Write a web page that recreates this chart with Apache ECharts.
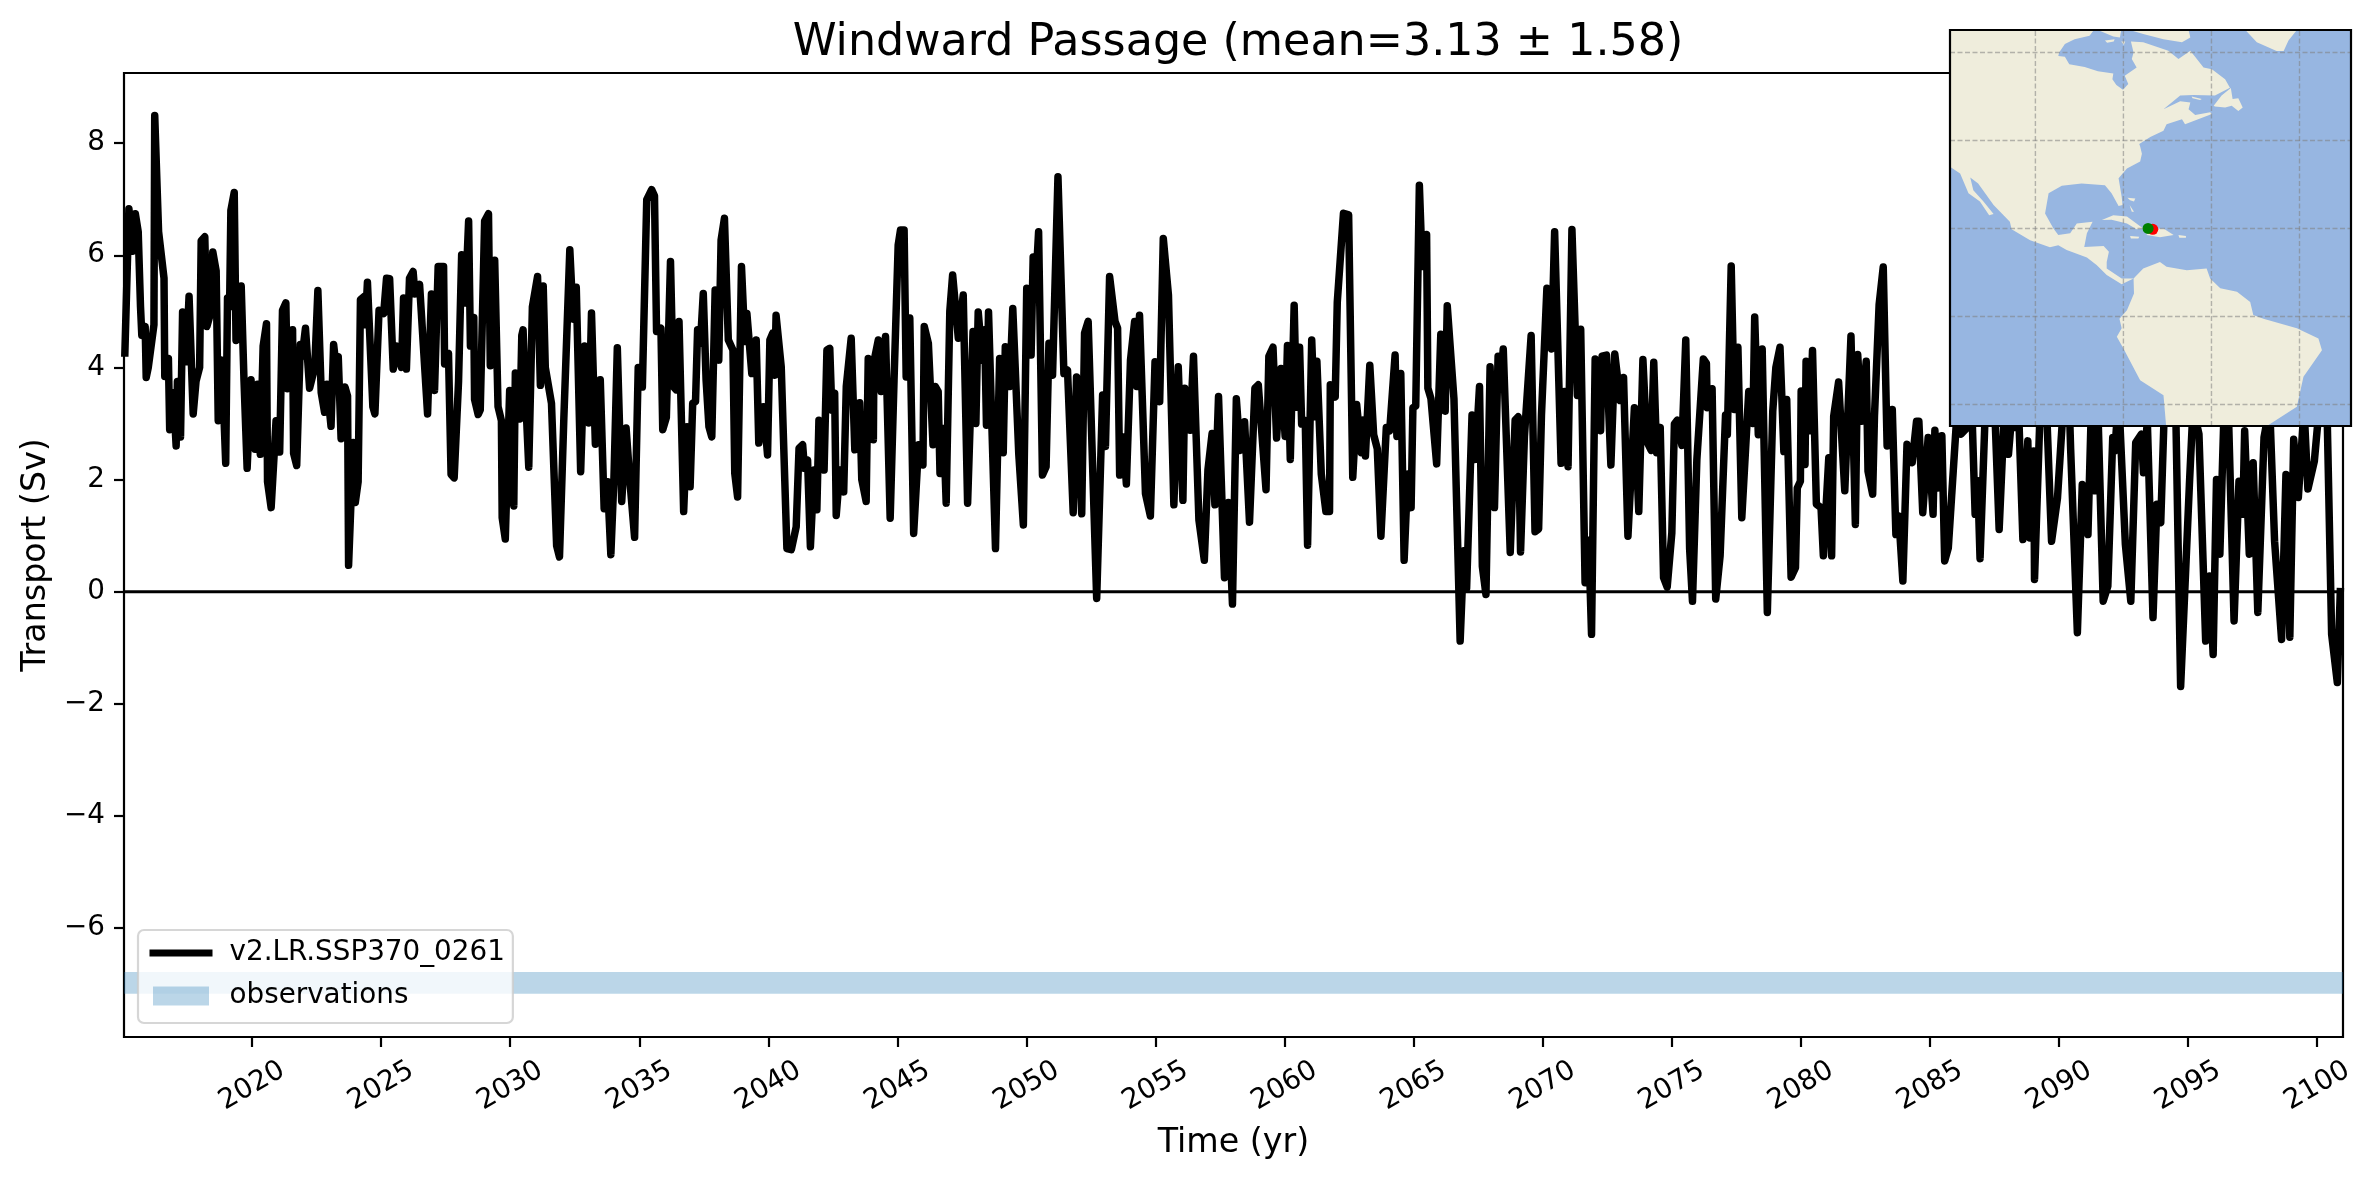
<!DOCTYPE html>
<html><head><meta charset="utf-8">
<style>html,body{margin:0;padding:0;background:#fff}#c{width:2376px;height:1180px}</style>
<script src="https://cdn.jsdelivr.net/npm/echarts@6/dist/echarts.min.js"></script>
</head><body><div id="c"></div>
<script>
const baseYear = 2000;
// [year since 2000, transport in Sv]
const readings2015 = [[15.07,4.19],[15.23,6.83],[15.37,6.07],[15.48,6.74],[15.59,6.42],[15.68,5.08],[15.73,4.57],[15.86,4.73],[15.90,3.82],[15.98,4.0],[16.20,4.76],[16.23,8.49],[16.38,6.42],[16.59,5.59],[16.62,3.84],[16.76,4.16],[16.81,2.89],[16.95,3.55],[17.06,2.6],[17.11,3.75],[17.23,2.76],[17.31,4.99],[17.45,4.1],[17.56,5.27],[17.72,3.17],[17.83,3.75],[17.97,4.0],[18.03,6.26],[18.17,6.33],[18.25,4.73],[18.39,4.96],[18.48,6.06],[18.61,5.72],[18.69,3.05],[18.83,4.13],[18.98,2.29],[19.05,5.24],[19.13,5.08],[19.18,6.8],[19.31,7.12],[19.38,4.48],[19.58,5.45],[19.69,3.75],[19.81,2.2],[19.96,3.78],[20.12,2.54],[20.21,3.7],[20.32,2.45],[20.43,4.38],[20.56,4.78],[20.6,1.96],[20.74,1.5],[20.93,3.05],[21.07,2.49],[21.18,5.02],[21.31,5.15],[21.37,3.62],[21.57,4.67],[21.61,2.47],[21.73,2.25],[21.87,4.41],[21.94,4.19],[22.07,4.7],[22.23,3.63],[22.43,4.0],[22.55,5.37],[22.68,3.55],[22.81,3.2],[22.9,3.7],[23.06,2.95],[23.16,4.41],[23.26,4.0],[23.34,4.19],[23.45,2.73],[23.6,3.65],[23.7,3.49],[23.74,0.47],[23.92,2.66],[24.0,1.59],[24.11,1.96],[24.2,5.21],[24.36,5.27],[24.39,4.76],[24.47,5.52],[24.68,3.3],[24.76,3.17],[24.92,5.02],[25.1,4.96],[25.21,5.59],[25.33,5.58],[25.47,3.97],[25.62,4.38],[25.79,4.0],[25.87,5.24],[25.98,3.97],[26.1,5.59],[26.24,5.71],[26.31,5.31],[26.49,5.48],[26.8,3.17],[26.95,5.31],[27.07,3.59],[27.21,5.8],[27.42,5.8],[27.46,4.06],[27.61,4.25],[27.71,2.09],[27.83,2.03],[28.0,3.75],[28.12,6.01],[28.26,5.15],[28.39,6.61],[28.46,4.38],[28.59,4.89],[28.62,3.43],[28.76,3.16],[28.84,3.24],[29.01,6.61],[29.16,6.74],[29.23,4.03],[29.4,5.91],[29.53,3.3],[29.66,3.05],[29.69,1.32],[29.81,0.94],[29.98,3.59],[30.14,1.53],[30.2,3.9],[30.38,3.08],[30.45,4.57],[30.5,4.67],[30.56,3.87],[30.72,2.22],[30.86,5.08],[31.06,5.62],[31.17,3.68],[31.28,5.45],[31.36,4.0],[31.6,3.36],[31.8,0.82],[31.91,0.62],[32.08,3.11],[32.31,6.1],[32.44,4.86],[32.56,5.43],[32.73,2.14],[32.88,4.38],[33.05,3.01],[33.15,4.97],[33.3,2.63],[33.49,3.78],[33.64,1.48],[33.77,1.96],[33.9,0.66],[34.02,2.03],[34.15,4.35],[34.32,1.61],[34.49,2.92],[34.64,1.96],[34.82,0.97],[34.96,4.0],[35.12,3.65],[35.29,6.99],[35.48,7.17],[35.59,7.06],[35.67,4.64],[35.84,4.7],[35.91,2.89],[36.05,3.11]];
const readings2036 = [[36.21,5.89],[36.32,3.66],[36.43,3.6],[36.54,4.82],[36.72,1.43],[36.85,2.94],[36.97,1.87],[37.07,3.36],[37.18,3.39],[37.26,4.67],[37.37,4.43],[37.48,5.32],[37.59,3.77],[37.7,2.94],[37.81,2.76],[37.94,5.38],[38.08,4.13],[38.17,6.27],[38.3,6.66],[38.45,4.49],[38.63,4.31],[38.7,2.11],[38.81,1.69],[38.96,5.8],[39.09,4.46],[39.17,4.96],[39.36,3.89],[39.53,4.49],[39.63,2.65],[39.81,3.3],[39.97,2.44],[40.06,4.49],[40.17,4.61],[40.25,3.86],[40.3,4.93],[40.5,4.01],[40.72,0.77],[40.89,0.75],[41.08,1.16],[41.19,2.56],[41.33,2.62],[41.4,2.2],[41.52,2.35],[41.63,0.8],[41.77,2.17],[41.88,1.46],[41.96,3.06],[42.16,2.17],[42.27,4.31],[42.38,4.34],[42.46,3.24],[42.57,3.54],[42.63,1.36],[42.77,2.17],[42.92,1.78],[43.02,3.66],[43.21,4.52],[43.35,2.53],[43.54,3.37],[43.62,2.0],[43.79,1.61],[43.87,4.16],[44.07,2.71],[44.09,4.1],[44.26,4.49],[44.37,3.57],[44.54,4.55],[44.72,1.31],[44.87,3.77],[45.03,6.18],[45.12,6.45],[45.26,6.45],[45.34,3.83],[45.48,4.88],[45.63,1.04],[45.82,2.62],[45.99,2.26],[46.04,4.73],[46.2,4.43],[46.38,2.62],[46.47,3.66],[46.58,3.57],[46.65,2.11],[46.79,2.91],[46.89,1.58],[47.03,5.0],[47.14,5.65],[47.36,4.52],[47.55,5.29],[47.72,1.58],[47.93,4.64],[48.04,3.0],[48.13,4.99],[48.29,4.13],[48.38,4.67],[48.45,2.97],[48.53,4.99],[48.8,0.77],[48.96,4.16],[49.1,2.48],[49.18,4.37],[49.35,3.66],[49.47,5.05],[49.7,2.47],[49.88,1.19],[50.01,5.41],[50.18,4.22],[50.26,5.97],[50.35,5.38],[50.47,6.42],[50.62,2.08],[50.76,2.23],[50.87,4.43],[51.01,3.86],[51.22,7.4],[51.45,3.89],[51.59,3.95],[51.81,1.41],[51.94,3.83],[52.14,1.39],[52.25,4.61],[52.39,4.82],[52.72,-0.12],[52.95,3.51],[53.06,2.59],[53.22,5.62],[53.43,4.82],[53.53,4.7],[53.61,2.08],[53.75,2.76],[53.87,1.92],[54.03,4.13],[54.19,4.82],[54.27,3.66],[54.38,4.93],[54.61,1.75],[54.8,1.35],[54.98,4.1],[55.16,3.39],[55.3,6.3],[55.5,5.29],[55.71,1.55],[55.88,4.01],[56.06,1.63],[56.13,3.63],[56.34,2.88],[56.47,4.2],[56.68,1.28],[56.89,0.56],[57.03,2.17],[57.19,2.82],[57.3,1.55],[57.44,3.48]];
const readings2057 = [[57.67,0.25],[57.82,1.59],[57.98,-0.22],[58.13,3.44],[58.27,2.52],[58.45,3.03],[58.64,1.24],[58.85,3.63],[58.98,3.69],[59.28,1.82],[59.39,4.2],[59.55,4.36],[59.69,2.74],[59.86,3.98],[60.02,2.77],[60.11,4.39],[60.22,2.36],[60.37,5.11],[60.46,3.29],[60.58,4.36],[60.66,2.99],[60.8,3.05],[60.89,0.83],[61.05,4.49],[61.16,3.12],[61.25,4.11],[61.42,2.1],[61.6,1.43],[61.74,1.43],[61.77,3.69],[61.96,3.47],[62.04,5.16],[62.28,6.75],[62.48,6.72],[62.64,2.04],[62.79,3.34],[62.97,2.48],[63.04,3.06],[63.13,2.42],[63.3,4.04],[63.45,2.8],[63.59,2.55],[63.73,0.99],[63.94,2.93],[64.07,2.87],[64.28,4.22],[64.35,2.77],[64.5,3.89],[64.63,0.56],[64.77,2.1],[64.9,1.5],[64.97,3.28],[65.08,3.31],[65.22,7.25],[65.33,5.8],[65.5,6.37],[65.55,3.63],[65.67,3.44],[65.89,2.28],[66.05,4.59],[66.22,3.22],[66.3,5.1],[66.56,3.44],[66.8,-0.88],[66.94,0.73],[67.05,0.06],[67.26,3.15],[67.39,2.36],[67.55,3.66],[67.66,0.45],[67.8,-0.05],[67.96,4.01],[68.13,1.5],[68.27,4.2],[68.36,3.69],[68.47,4.33],[68.74,0.7],[68.93,3.06],[69.05,3.12],[69.14,0.71],[69.29,2.77],[69.55,4.57],[69.7,1.07],[69.84,1.12],[69.95,3.15],[70.16,5.41],[70.34,4.33],[70.46,6.42],[70.71,2.29],[70.84,3.57],[70.98,2.23],[71.13,6.46],[71.34,3.5],[71.47,4.68],[71.64,0.16],[71.78,0.92],[71.89,-0.76],[72.03,4.15],[72.24,2.87],[72.3,4.2],[72.47,4.22],[72.64,2.26],[72.79,4.24],[73.0,3.41],[73.13,3.82],[73.3,0.99],[73.55,3.28],[73.72,1.43],[73.88,4.14],[74.03,2.68],[74.2,2.52],[74.3,4.09],[74.41,2.48],[74.55,2.93],[74.68,0.25],[74.82,0.08],[75.0,1.05],[75.1,2.99],[75.21,3.06],[75.39,2.61],[75.54,4.49],[75.69,0.76],[75.8,-0.17],[75.97,2.36],[76.22,4.15],[76.34,4.07],[76.37,3.28],[76.56,3.62],[76.7,-0.13],[76.87,0.64],[77.08,3.15],[77.15,2.8],[77.3,5.81],[77.42,3.25],[77.56,4.36],[77.71,1.32],[77.98,3.57],[78.14,3.0],[78.21,4.9],[78.35,2.8],[78.5,4.33],[78.7,-0.37]];
const readings2079 = [[78.91,3.22],[79.03,4.0],[79.19,4.36],[79.34,2.5],[79.45,3.43],[79.62,0.26],[79.79,0.43],[79.86,1.85],[79.98,1.97],[80.01,3.58],[80.16,2.27],[80.2,4.11],[80.34,2.87],[80.45,4.3],[80.6,1.56],[80.78,1.5],[80.87,0.64],[81.08,2.39],[81.19,0.64],[81.27,3.13],[81.46,3.74],[81.7,1.8],[81.94,4.56],[82.11,1.2],[82.2,4.23],[82.35,3.04],[82.53,4.11],[82.6,2.15],[82.78,1.74],[82.85,3.13],[83.03,5.12],[83.19,5.79],[83.34,2.6],[83.54,3.25],[83.68,1.02],[83.79,1.35],[83.95,0.19],[84.11,2.63],[84.31,2.3],[84.48,3.04],[84.57,3.04],[84.72,1.41],[84.93,2.75],[85.12,1.38],[85.19,2.88],[85.3,1.85],[85.46,2.78],[85.57,0.55],[85.71,0.78],[86.01,2.93],[86.11,3.4],[86.2,2.81],[86.45,2.93],[86.6,3.6],[86.75,1.38],[86.85,1.98],[86.94,0.59],[87.12,2.93],[87.19,3.8],[87.49,3.5],[87.68,1.11],[87.86,2.99],[88.04,2.45],[88.19,3.28],[88.28,2.93],[88.45,3.0],[88.6,0.93],[88.79,2.69],[88.87,0.96],[89.02,2.51],[89.05,0.22],[89.27,3.28],[89.49,3.6],[89.71,0.9],[89.94,1.67],[90.16,3.28],[90.38,3.6],[90.45,2.54],[90.71,-0.73],[90.9,1.91],[91.12,1.02],[91.27,3.6],[91.39,1.8],[91.49,3.5],[91.71,-0.17],[91.89,0.1],[92.08,2.75],[92.16,2.51],[92.31,3.5],[92.57,0.84],[92.78,-0.17],[92.97,2.66],[93.19,2.81],[93.27,2.12],[93.42,3.04],[93.64,-0.46],[93.79,1.56],[93.94,1.23],[94.08,3.28],[94.53,3.0],[94.71,-1.69],[95.05,1.91],[95.19,3.28],[95.42,2.81],[95.68,-0.88],[95.83,0.28],[95.97,-1.12],[96.1,2.0],[96.23,0.67],[96.38,3.04],[96.57,3.04],[96.78,-0.52],[96.97,1.97],[97.12,1.38],[97.19,2.87],[97.37,0.67],[97.52,2.3],[97.7,-0.37],[97.94,2.75],[98.16,3.3],[98.35,0.9],[98.62,-0.85],[98.79,2.09],[98.94,-0.81],[99.09,2.72],[99.27,1.68],[99.49,3.28],[99.64,1.83],[99.89,2.33],[100.08,3.3],[100.38,3.28],[100.56,-0.76],[100.78,-1.62],[100.9,0.07]];

const xRange = [2015.04, 2101];
const yRange = [-7.94, 9.25];
const yearTicks = [2020,2025,2030,2035,2040,2045,2050,2055,2060,2065,2070,2075,2080,2085,2090,2095,2100];
const transportTicks = [-6,-4,-2,0,2,4,6,8];
const observationBand = [-6.78, -7.17];
const titleText = 'Windward Passage (mean=3.13 \u00b1 1.58)';
const runName = 'v2.LR.SSP370_0261';
const obsName = 'observations';

// inset map: [longitude, latitude]
const lonRange = [-119.4, -28.3];
const latRange = [-24.9, 65.1];
const gridLons = [-100,-80,-60,-40];
const gridLats = [60,40,20,0,-20];
const northAmerica = [[-119.4,65.1],[-86.7,65.1],[-87.7,63.8],[-91.1,63],[-93.3,61.9],[-94.6,60],[-94.8,59.2],[-93.3,59],[-92.3,57.3],[-88.8,56.7],[-85.8,55.7],[-82.3,55.2],[-82.5,53.9],[-81.6,52.6],[-80.1,51.5],[-78.9,52.8],[-79.7,54.7],[-77,56.6],[-78.1,58.5],[-77.7,60],[-78.3,62.5],[-75.5,62.3],[-69.8,60.4],[-67.5,58.5],[-64.8,60.4],[-61.8,56.6],[-59.9,56.2],[-56.9,53.9],[-55.8,52],[-59.2,50.2],[-64.1,50.3],[-67.1,50.2],[-70.9,47.1],[-67.1,48.9],[-64.8,48.6],[-65.2,47.1],[-63.7,45.8],[-60.3,46.4],[-59.9,46],[-66,43.7],[-66.7,44.8],[-70.2,43.7],[-70.9,42.2],[-73.9,40.8],[-76.4,39.2],[-76.2,38.6],[-75.8,37],[-76.2,35.2],[-79.2,33.6],[-81.1,31.4],[-80.4,27.2],[-80.2,25.3],[-81.1,25.1],[-82.7,28],[-84.2,29.8],[-89.5,30.2],[-94,29.7],[-97,28],[-97.8,23.4],[-95.9,20],[-94.8,18.5],[-92.1,18.9],[-90.6,21.1],[-87,21.5],[-88.3,18.9],[-88.9,15.8],[-84.5,16],[-83.3,14.7],[-83.8,12.4],[-83.8,10.9],[-80.4,8.6],[-77.7,8.6],[-80.4,7.3],[-83.8,9.4],[-86.1,11.7],[-88.3,13.4],[-92.9,15.1],[-94.8,16.2],[-96.7,15.7],[-101.2,17.3],[-105.4,19.8],[-105.8,21.5],[-109.5,25.3],[-113,30.2],[-114.8,31.6],[-114.1,28.7],[-111.8,26.1],[-109.5,23.3],[-110.5,23],[-112.6,26.1],[-115.2,28],[-117.1,32.5],[-119.4,34]];
const southAmerica = [[-77.7,8.6],[-75.5,10.9],[-71.7,12.4],[-70.2,11.3],[-65.6,10.5],[-61.1,10.9],[-60.3,8.6],[-58,6.4],[-54.2,5.6],[-51.2,3.3],[-50.5,0.3],[-48.2,-0.5],[-40.6,-2.7],[-35.7,-5],[-34.9,-7.7],[-39.1,-13.7],[-40.6,-20.5],[-47.4,-24.9],[-70.3,-24.9],[-70.9,-17.9],[-76.2,-14.5],[-80,-7.3],[-81.5,-4.6],[-80.4,-2.7],[-80.9,-0.5],[-79.2,1.4],[-77.6,5.2]];
const greenland = [[-52.3,65.1],[-49.7,62.3],[-45.2,60.3],[-43.6,60.3],[-42.5,62.7],[-40.6,65.1]];
const newfoundland = [[-59.5,47.9],[-57.7,50.2],[-55.6,51.9],[-55.2,49.4],[-53.9,49.6],[-52.9,47.5],[-53.9,46.7],[-55.4,47.9],[-56.9,47.5],[-59.2,47.7]];
const anticosti = [[-64.5,50],[-62.2,49.4],[-62.6,49.2],[-64.3,49.6]];
const cuba = [[-84.9,21.9],[-82.3,23],[-79.2,22.7],[-75.5,20],[-77,19.8],[-79.2,21.1],[-82.7,22]];
const hispaniola = [[-74.7,19.8],[-70.9,20],[-68.6,18.5],[-71.7,18],[-74.7,18.5]];
const jamaica = [[-78.5,18.3],[-76.4,18.1],[-76.6,17.7],[-78.3,17.7]];
const puertoRico = [[-67.5,18.5],[-65.8,18.3],[-65.8,17.9],[-67.3,17.9]];
const bahamas = [[-79.1,27],[-77.3,26.8],[-77.6,26.1],[-78.5,26.4]];
const andros = [[-78.6,25.3],[-77.6,23.8],[-78.1,23.8]];
const southampton = [[-85.8,65.1],[-80.5,65.1],[-80.8,63.4],[-82.3,63.6],[-84.2,64.4]];
const coats = [[-84.2,62.7],[-82,63],[-82.2,62.5],[-83.7,62.2]];
const mansel = [[-80.5,62.5],[-79.6,62.5],[-79.9,61.7]];
const baffin = [[-78.6,65.1],[-65.2,65.1],[-64.8,63.4],[-66.7,62.3],[-70.9,63],[-75.5,64.2]];
const landPolygons = [northAmerica,southAmerica,greenland,newfoundland,anticosti,cuba,hispaniola,jamaica,puertoRico,bahamas,andros,southampton,coats,mansel,baffin];
const sectionA = [-73.33, 19.8];
const sectionB = [-74.4, 20];

const FONT = '"DejaVu Sans"';
const transport = [...readings2015,...readings2036,...readings2057,...readings2079].map(p=>[baseYear+p[0],p[1]]);

const gridSegs = [...gridLons.map(x=>[[x,latRange[0]],[x,latRange[1]]]),...gridLats.map(y=>[[lonRange[0],y],[lonRange[1],y]])];

const option = {
  animation:false,
  backgroundColor:'#fff',
  textStyle:{fontFamily:FONT},
  title:{text:titleText,left:1233,top:16,textAlign:'center',textStyle:{fontFamily:FONT,fontSize:44.4,fontWeight:'normal',color:'#000'}},
  legend:{
    orient:'vertical',left:138,top:930,padding:[9,8,13,8],itemGap:15,
    itemWidth:63,itemHeight:19,
    backgroundColor:'rgba(255,255,255,0.8)',borderColor:'rgba(204,204,204,0.8)',borderWidth:2.2,borderRadius:6,
    textStyle:{fontFamily:FONT,fontSize:27.8,color:'#000',padding:[0,0,0,12]},
    data:[
      {name:runName,itemStyle:{opacity:0},lineStyle:{width:7,color:'#000',opacity:1}},
      {name:obsName,icon:'path://M0 0L0 0ZM3.5 0H59.5V19H3.5ZM63 19L63 19Z'}
    ]
  },
  grid:[
    {left:124,top:73,width:2219,height:964,show:true,borderColor:'#000',borderWidth:2.2,backgroundColor:'#fff'},
    {left:1950,top:30,width:401,height:396,show:true,zlevel:1,borderWidth:0,backgroundColor:'#97b6e1'}
  ],
  xAxis:[
    {type:'value',gridIndex:0,min:xRange[0],max:xRange[1],
      name:'Time (yr)',nameLocation:'middle',nameGap:90,nameTextStyle:{fontFamily:FONT,fontSize:33.3,color:'#000'},
      axisLine:{show:false,onZero:false},splitLine:{show:false},
      axisTick:{show:true,length:10,lineStyle:{color:'#000',width:2.2},customValues:yearTicks},
      axisLabel:{rotate:30,align:'center',verticalAlign:'middle',margin:49,fontFamily:FONT,fontSize:27.8,color:'#000',customValues:yearTicks,formatter:v=>String(v)}},
    {type:'value',gridIndex:1,min:lonRange[0],max:lonRange[1],show:false,splitLine:{show:false}}
  ],
  yAxis:[
    {type:'value',gridIndex:0,min:yRange[0],max:yRange[1],
      name:'Transport (Sv)',nameLocation:'middle',nameGap:70,nameTextStyle:{fontFamily:FONT,fontSize:33.3,color:'#000'},
      axisLine:{show:false,onZero:false},splitLine:{show:false},
      axisTick:{show:true,length:10,lineStyle:{color:'#000',width:2.2},customValues:transportTicks},
      axisLabel:{margin:19,fontFamily:FONT,fontSize:27.8,color:'#000',customValues:transportTicks,formatter:v=>String(v).replace('-','\u2212')}},
    {type:'value',gridIndex:1,min:latRange[0],max:latRange[1],show:false,splitLine:{show:false}}
  ],
  series:[
    {name:obsName,type:'custom',xAxisIndex:0,yAxisIndex:0,z:1,legendIcon:'rect',
      itemStyle:{color:'#1f77b4',opacity:0.3},
      data:[[xRange[0],observationBand[0],xRange[1],observationBand[1]]],
      renderItem:(p,api)=>{const a=api.coord([api.value(0),api.value(1)]),b=api.coord([api.value(2),api.value(3)]);
        return {type:'rect',shape:{x:a[0],y:a[1],width:b[0]-a[0],height:b[1]-a[1]},style:{fill:'#1f77b4',opacity:0.3}};}},
    {name:runName,type:'line',xAxisIndex:0,yAxisIndex:0,z:3,data:transport,showSymbol:false,symbol:'none',sampling:null,smooth:false,
      lineStyle:{color:'#000',width:7.5,join:'round',cap:'butt'},itemStyle:{color:'#000'}},
    {name:'zero',type:'line',xAxisIndex:0,yAxisIndex:0,z:3,data:[[xRange[0],0],[xRange[1],0]],showSymbol:false,symbol:'none',
      lineStyle:{color:'#000',width:2.8}},
    {name:'land',type:'custom',xAxisIndex:1,yAxisIndex:1,zlevel:1,z:2,clip:true,silent:true,
      data:landPolygons.map(p=>p[0]),
      renderItem:(p,api)=>({type:'polygon',shape:{points:landPolygons[p.dataIndex].map(c=>api.coord(c))},style:{fill:'#efeddc',stroke:'none'}})},
    {name:'graticule',type:'custom',xAxisIndex:1,yAxisIndex:1,zlevel:1,z:3,silent:true,
      data:gridSegs.map(s=>s[0]),
      renderItem:(p,api)=>{const s=gridSegs[p.dataIndex],a=api.coord(s[0]),b=api.coord(s[1]);
        return {type:'line',shape:{x1:a[0],y1:a[1],x2:b[0],y2:b[1]},style:{stroke:'rgba(128,128,128,0.55)',lineWidth:1.4,lineDash:[5,2.5]}};}},
    {name:'sectionA',type:'scatter',xAxisIndex:1,yAxisIndex:1,zlevel:1,z:4,symbolSize:11,silent:true,data:[sectionA],itemStyle:{color:'#ff0000',opacity:1}},
    {name:'sectionB',type:'scatter',xAxisIndex:1,yAxisIndex:1,zlevel:1,z:5,symbolSize:11,silent:true,data:[sectionB],itemStyle:{color:'#008000',opacity:1}},
    {name:'frame',type:'custom',xAxisIndex:1,yAxisIndex:1,zlevel:1,z:6,silent:true,clip:false,
      data:[[lonRange[0],latRange[1]]],
      renderItem:(p,api)=>{const a=api.coord([lonRange[0],latRange[1]]),b=api.coord([lonRange[1],latRange[0]]);
        return {type:'rect',shape:{x:a[0],y:a[1],width:b[0]-a[0],height:b[1]-a[1]},style:{fill:'none',stroke:'#000',lineWidth:2.2}};}}
  ]
};
echarts.init(document.getElementById('c')).setOption(option);
</script></body></html>
